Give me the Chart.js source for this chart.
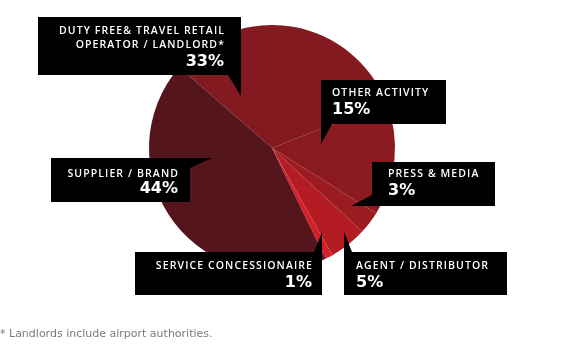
<!DOCTYPE html>
<html>
<head>
<meta charset="utf-8">
<script src="https://cdn.jsdelivr.net/npm/chart.js@4"></script>
<style>
  html, body { margin: 0; padding: 0; background: #fff; }
  #wrap { position: relative; width: 585px; height: 357px; }
  canvas { display: block; }
</style>
</head>
<body>
<div id="wrap"><canvas id="c" width="585" height="357"></canvas></div>
<script>
// ---- data ----
const categories = [
  "DUTY FREE& TRAVEL RETAIL\nOPERATOR / LANDLORD*",
  "OTHER ACTIVITY",
  "PRESS & MEDIA",
  "AGENT / DISTRIBUTOR",
  "SERVICE CONCESSIONAIRE",
  "SUPPLIER / BRAND"
];
const shares = [33, 15, 3, 5, 1, 44];
const shareLabels = ["33%", "15%", "3%", "5%", "1%", "44%"];
const footnote = "* Landlords include airport authorities.";

// ---- styling / layout ----
const sliceColors = ["#821a1f", "#8a1a20", "#9c1b21", "#b21c22", "#d61f27", "#54161c"];
// callout boxes: [x0, y0, x1, y1], pointer triangle, text anchor/alignment
const callouts = [
  { box: [38, 17, 241, 75], tri: [[228, 75], [241, 75], [241, 96]], align: "right", tx: 224, ty: [34, 48], py: 66 },
  { box: [321, 80, 446, 124], tri: [[321, 124], [332, 124], [321, 144]], align: "left", tx: 332, ty: [96], py: 114 },
  { box: [372, 162, 495, 206], tri: [[372, 195], [372, 206], [351, 206]], align: "left", tx: 388, ty: [177], py: 195 },
  { box: [344, 252, 507, 295], tri: [[344, 252], [352, 252], [344, 232]], align: "left", tx: 356, ty: [269], py: 287 },
  { box: [135, 252, 322, 295], tri: [[314, 252], [322, 252], [322, 232]], align: "right", tx: 312, ty: [269], py: 287 },
  { box: [51, 158, 190, 202], tri: [[190, 158], [212, 158], [190, 168]], align: "right", tx: 178, ty: [177], py: 193 }
];

const calloutPlugin = {
  id: "callouts",
  afterDraw(chart) {
    const ctx = chart.ctx;
    ctx.save();
    callouts.forEach((c, i) => {
      ctx.fillStyle = "#000";
      const [x0, y0, x1, y1] = c.box;
      ctx.fillRect(x0, y0, x1 - x0, y1 - y0);
      ctx.beginPath();
      ctx.moveTo(c.tri[0][0], c.tri[0][1]);
      ctx.lineTo(c.tri[1][0], c.tri[1][1]);
      ctx.lineTo(c.tri[2][0], c.tri[2][1]);
      ctx.closePath();
      ctx.fill();
      ctx.fillStyle = "#fff";
      ctx.textAlign = c.align;
      ctx.textBaseline = "alphabetic";
      ctx.font = "600 10.5px 'Open Sans'";
      if ("letterSpacing" in ctx) ctx.letterSpacing = "1.1px";
      const lines = categories[i].split("\n");
      lines.forEach((ln, k) => {
        const x = c.align === "right" ? c.tx + 1 : c.tx;
        ctx.fillText(ln, x, c.ty[k]);
      });
      ctx.font = "bold 16px 'DejaVu Sans'";
      if ("letterSpacing" in ctx) ctx.letterSpacing = "0px";
      ctx.fillText(shareLabels[i], c.tx, c.py);
    });
    ctx.fillStyle = "#7a7a7a";
    ctx.textAlign = "left";
    ctx.font = "11px 'DejaVu Sans'";
    if ("letterSpacing" in ctx) ctx.letterSpacing = "0px";
    ctx.fillText(footnote, 0, 337);
    ctx.restore();
  }
};

new Chart(document.getElementById("c"), {
  type: "pie",
  data: {
    labels: categories,
    datasets: [{
      data: shares,
      backgroundColor: sliceColors,
      borderWidth: 0
    }]
  },
  options: {
    responsive: false,
    animation: false,
    rotation: -49,
    layout: { padding: { left: 149, right: 190, top: 25, bottom: 86 } },
    plugins: {
      legend: { display: false },
      tooltip: { enabled: false }
    }
  },
  plugins: [calloutPlugin]
});
</script>
</body>
</html>
